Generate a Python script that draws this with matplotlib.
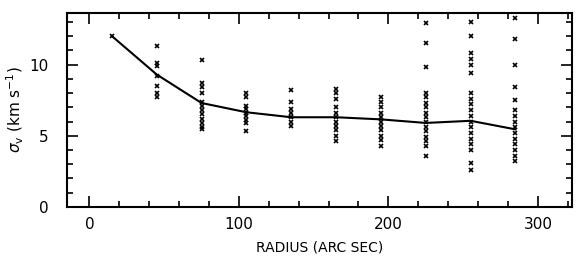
import matplotlib
matplotlib.use("Agg")
import matplotlib.pyplot as plt
from matplotlib.ticker import MultipleLocator

# Mean profile (line)
radius = [15, 45, 75, 105, 135, 165, 195, 225, 255, 285]
sigma_mean = [12.0, 9.3, 7.3, 6.65, 6.3, 6.3, 6.15, 5.9, 6.05, 5.45]

# Individual measurements per radius (crosses)
pts_15 = [12.0]
pts_45 = [11.3, 10.1, 9.9, 9.2, 8.5, 8.0, 7.7]
pts_75 = [10.3, 8.7, 8.4, 8.0, 7.4, 7.1, 6.8, 6.5, 6.2, 5.9, 5.6, 5.5]
pts_105 = [8.0, 7.7, 7.1, 6.9, 6.6, 6.4, 6.1, 5.9, 5.3]
pts_135 = [8.2, 7.4, 6.9, 6.6, 6.3, 6.0, 5.7]
pts_165 = [8.3, 8.0, 7.6, 7.0, 6.6, 6.3, 6.0, 5.7, 5.4, 5.0, 4.6]
pts_195 = [7.7, 7.4, 7.0, 6.6, 6.3, 6.0, 5.7, 5.4, 5.0, 4.7, 4.3]
pts_225 = [12.9, 11.5, 9.8, 8.0, 7.7, 7.3, 7.0, 6.6, 6.3, 6.0, 5.6, 5.3, 4.9, 4.6, 4.3, 3.6]
pts_255 = [13.0, 12.0, 10.8, 10.4, 10.0, 9.4, 8.0, 7.6, 7.2, 6.8, 6.4, 6.0, 5.6, 5.2, 4.8, 4.4, 4.0, 3.1, 2.6]
pts_285 = [13.3, 11.8, 10.0, 8.4, 7.5, 6.8, 6.4, 6.0, 5.6, 5.2, 4.8, 4.4, 4.0, 3.6, 3.2]
points = [pts_15, pts_45, pts_75, pts_105, pts_135, pts_165, pts_195, pts_225, pts_255, pts_285]

x_ticks = [0, 100, 200, 300]
y_ticks = [0, 5, 10]

fig = plt.figure(figsize=(5.78, 2.66), dpi=100)
ax = fig.add_axes([0.116, 0.222, 0.874, 0.728])

for r, vals in zip(radius, points):
    ax.plot([r] * len(vals), vals, linestyle='none', marker='x', ms=3.0, mew=1.2, color='black')

ax.plot(radius, sigma_mean, color='black', lw=1.5)

ax.set_xlim(-15, 323)
ax.set_ylim(0, 13.6)
ax.set_xticks(x_ticks)
ax.set_yticks(y_ticks)
ax.xaxis.set_minor_locator(MultipleLocator(20))
ax.yaxis.set_minor_locator(MultipleLocator(1))
ax.tick_params(which='both', direction='in', top=True, right=True, width=1.2, labelsize=11)
ax.tick_params(which='major', length=8)
ax.tick_params(which='minor', length=4)
ax.tick_params(axis='x', which='major', pad=7)
ax.tick_params(axis='y', which='major', pad=13)
for s in ax.spines.values():
    s.set_linewidth(1.5)

ax.set_xlabel('RADIUS (ARC SEC)', fontsize=10, labelpad=6)
ax.set_ylabel(r'$\sigma_{\rm v}$ (km s$^{-1}$)', fontsize=11, labelpad=3)

fig.savefig('out.png', dpi=100)
